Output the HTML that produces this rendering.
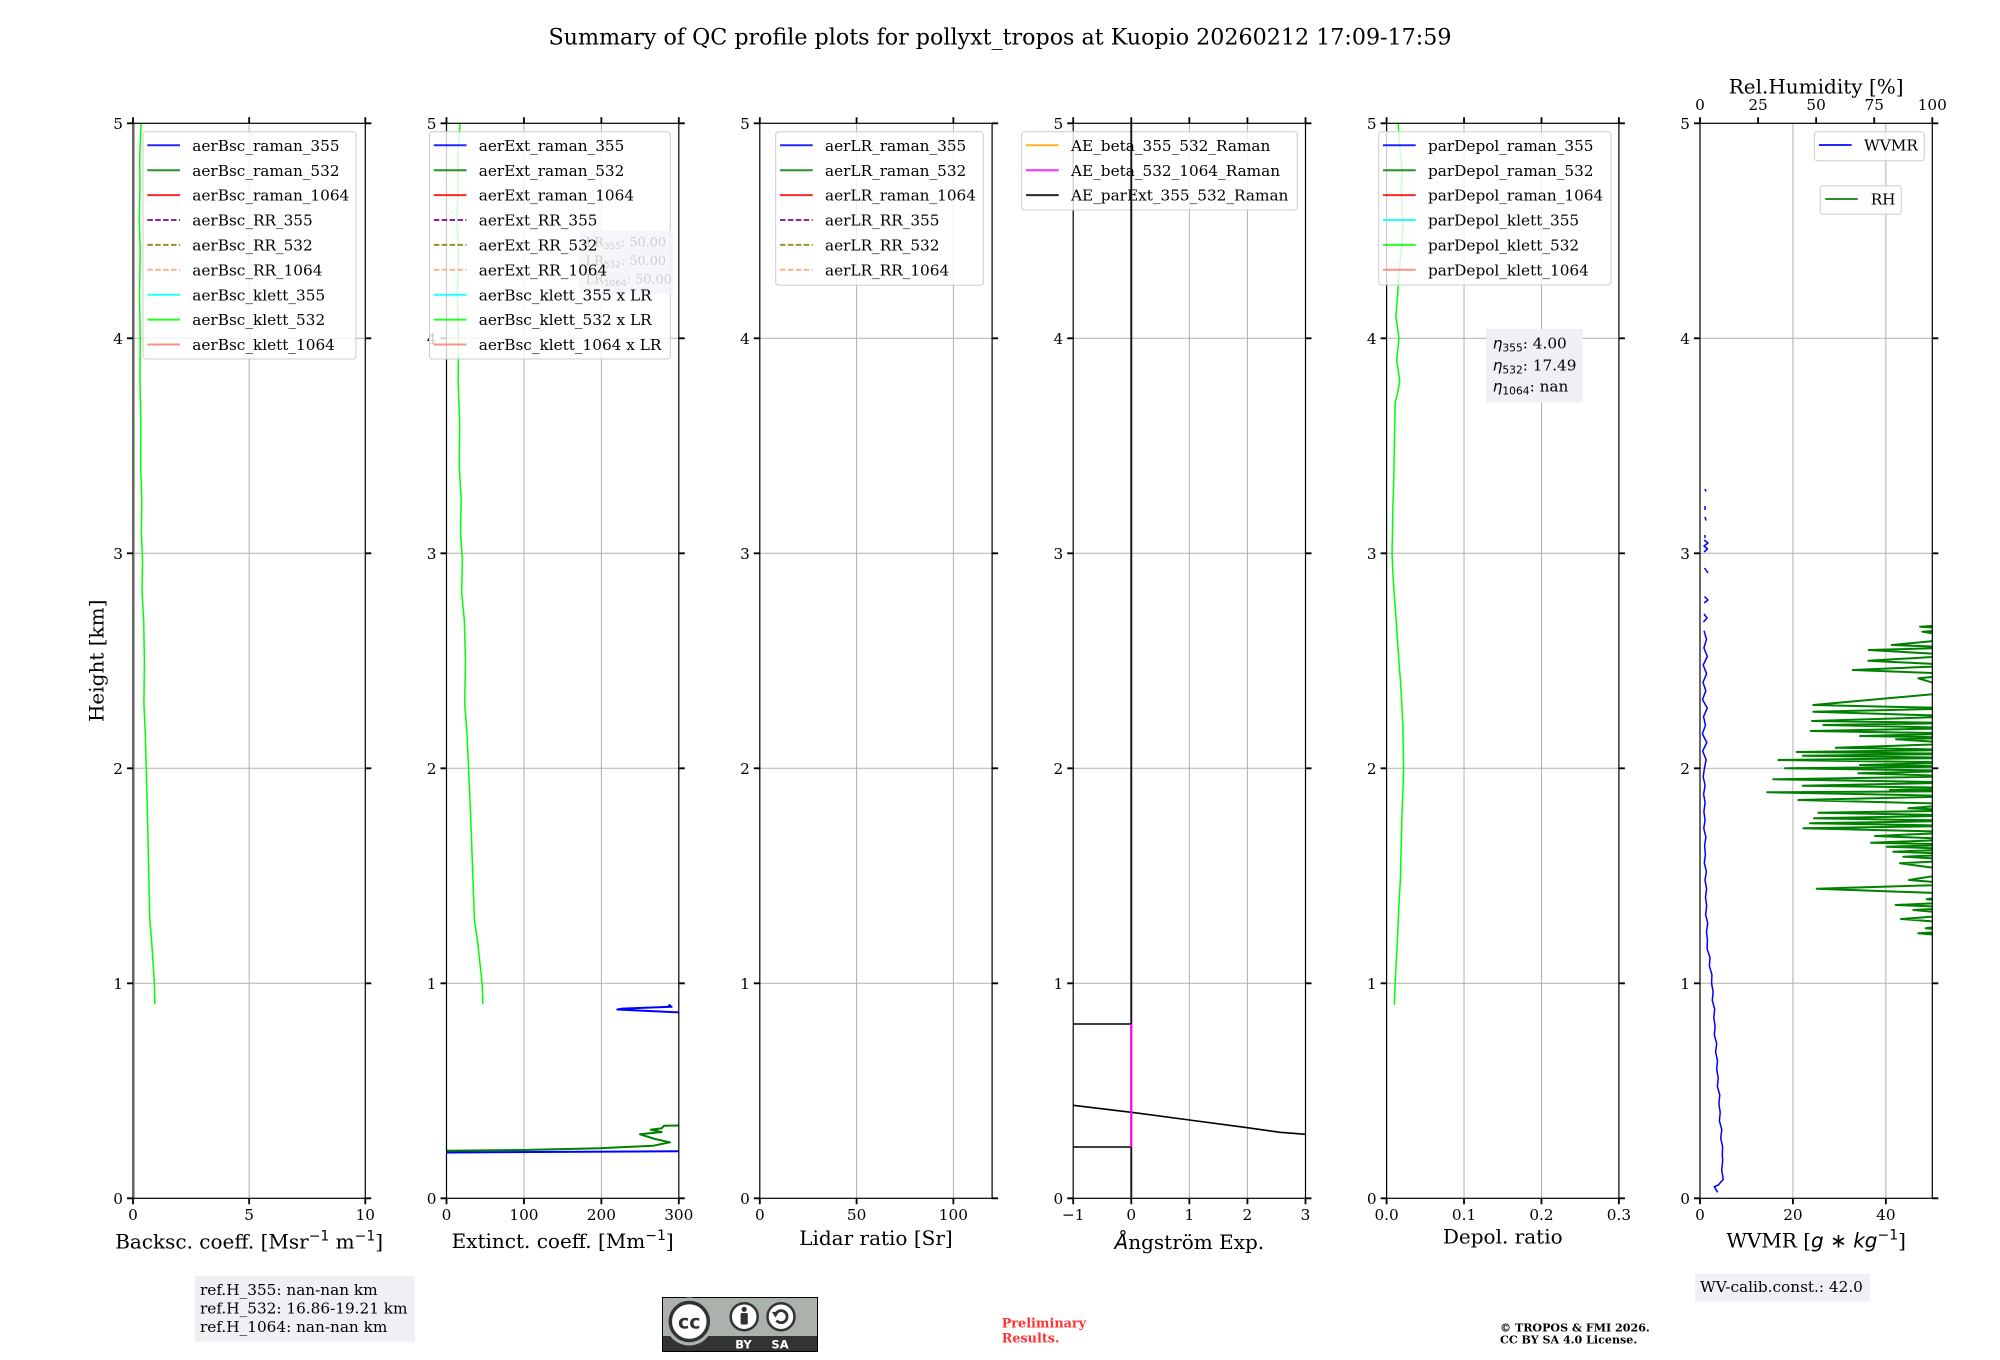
<!DOCTYPE html>
<html><head><meta charset="utf-8"><style>
body{margin:0;background:#fff}
svg{display:block}
text{font-family:"DejaVu Serif","Liberation Serif",serif;fill:#000}
.tk{font-size:15.28px}
.lg{font-size:15.28px}
.lb{font-size:20px}
.ms{font-family:"DejaVu Sans","Liberation Sans",sans-serif}
</style></head><body>
<svg width="2000" height="1360" viewBox="0 0 2000 1360" xmlns="http://www.w3.org/2000/svg">
<defs><clipPath id="c"><rect x="0" y="123.3" width="232.3" height="1075"/></clipPath></defs>
<rect width="2000" height="1360" fill="#fff"/>

<text x="1000" y="44.3" text-anchor="middle" font-size="22.2">Summary of QC profile plots for pollyxt_tropos at Kuopio 20260212 17:09-17:59</text>
<text class="lb" transform="translate(103.3,660.8) rotate(-90)" text-anchor="middle">Height [km]</text>

<!-- ============ AXIS 1 ============ -->
<g transform="translate(133,0)">
<g stroke="#b0b0b0" stroke-width="1" fill="none">
<path d="M0,983.3H232.3M0,768.3H232.3M0,553.3H232.3M0,338.3H232.3M116.15,123.3V1198.3M1.5,123.3V1198.3"/>
</g>
<g clip-path="url(#c)" fill="none" stroke-linejoin="round">
<path stroke="#00ff00" stroke-width="1.5" d="M21.84,1004.4 L21.37,983.3 L19.98,961.8 L18.58,940.3 L17.19,925.3 L16.73,918.8 L15.8,875.8 L14.87,832.8 L13.94,794.1 L13.24,768.3 L12.31,733.9 L10.92,703.8 L11.38,660.8 L10.69,619.9 L9.06,592 L9.52,559.8 L8.36,531.8 L8.83,499.6 L7.67,467.3 L7.9,424.3 L6.97,381.3 L7.2,338.3 L6.5,295.3 L7.2,252.3 L6.27,220.1 L6.97,187.8 L6.74,155.6 L8.13,123.3"/>
</g>
<rect x="0" y="123.3" width="232.3" height="1075" fill="none" stroke="#000" stroke-width="1.2"/>
<path stroke="#000" stroke-width="1.8" fill="none" d="M-6,1198.3H0M-6,983.3H0M-6,768.3H0M-6,553.3H0M-6,338.3H0M-6,123.3H0M232.3,1198.3h6M232.3,983.3h6M232.3,768.3h6M232.3,553.3h6M232.3,338.3h6M232.3,123.3h6M0,1198.3v6M116.15,1198.3v6M232.3,1198.3v6M0,123.3v-6M116.15,123.3v-6M232.3,123.3v-6"/>
<g text-anchor="end"><text class="tk" x="-10" y="1203.8">0</text><text class="tk" x="-10" y="988.8">1</text><text class="tk" x="-10" y="773.8">2</text><text class="tk" x="-10" y="558.8">3</text><text class="tk" x="-10" y="343.8">4</text><text class="tk" x="-10" y="128.8">5</text></g>
<g text-anchor="middle"><text class="tk" x="0" y="1220">0</text><text class="tk" x="116.15" y="1220">5</text><text class="tk" x="232.3" y="1220">10</text></g>
<text class="lb" x="116.15" y="1248.3" text-anchor="middle">Backsc. coeff. [Msr<tspan class="ms" font-size="14" dy="-8">−1</tspan><tspan dy="8"> m</tspan><tspan class="ms" font-size="14" dy="-8">−1</tspan><tspan dy="8">]</tspan></text>
</g>
<!-- legend 1 -->
<rect x="143" y="131.7" width="213" height="227.3" rx="3" fill="#fff" fill-opacity="0.8" stroke="#cccccc" stroke-width="1"/>
<g stroke-width="2" stroke-opacity="0.85" fill="none">
<path stroke="#0000ff" d="M147.3,145.3H180"/>
<path stroke="#008000" d="M147.3,170.2H180"/>
<path stroke="#ff0000" d="M147.3,195.1H180"/>
<path stroke="#800080" stroke-dasharray="5.5,2.4" d="M147.3,220H180"/>
<path stroke="#808000" stroke-dasharray="5.5,2.4" d="M147.3,244.9H180"/>
<path stroke="#ffa07a" stroke-dasharray="5.5,2.4" d="M147.3,269.8H180"/>
<path stroke="#00ffff" d="M147.3,294.7H180"/>
<path stroke="#00ff00" d="M147.3,319.6H180"/>
<path stroke="#fa8072" d="M147.3,344.5H180"/>
</g>
<g><text class="lg" x="192.3" y="150.9">aerBsc_raman_355</text><text class="lg" x="192.3" y="175.8">aerBsc_raman_532</text><text class="lg" x="192.3" y="200.7">aerBsc_raman_1064</text><text class="lg" x="192.3" y="225.6">aerBsc_RR_355</text><text class="lg" x="192.3" y="250.5">aerBsc_RR_532</text><text class="lg" x="192.3" y="275.4">aerBsc_RR_1064</text><text class="lg" x="192.3" y="300.3">aerBsc_klett_355</text><text class="lg" x="192.3" y="325.2">aerBsc_klett_532</text><text class="lg" x="192.3" y="350.1">aerBsc_klett_1064</text></g>

<!-- ============ AXIS 2 ============ -->
<g transform="translate(446.5,0)">
<g stroke="#b0b0b0" stroke-width="1" fill="none">
<path d="M0,983.3H232.3M0,768.3H232.3M0,553.3H232.3M0,338.3H232.3M77.43,123.3V1198.3M154.87,123.3V1198.3"/>
</g>
<g clip-path="url(#c)" fill="none" stroke-linejoin="round">
<path stroke="#00ff00" stroke-width="1.5" d="M36.39,1004.4 L35.62,983.3 L33.29,961.8 L30.97,940.3 L28.65,925.3 L27.87,918.8 L26.33,875.8 L24.78,832.8 L23.23,794.1 L22.07,768.3 L20.52,733.9 L18.2,703.8 L18.97,660.8 L17.81,619.9 L15.1,592 L15.87,559.8 L13.94,531.8 L14.71,499.6 L12.78,467.3 L13.16,424.3 L11.61,381.3 L12,338.3 L10.84,295.3 L12,252.3 L10.45,220.1 L11.61,187.8 L11.23,155.6 L13.55,123.3"/>
<path stroke="#0000ff" stroke-width="2" d="M0,1152.5 L232.3,1151.2"/>
<path stroke="#0000ff" stroke-width="2" d="M245,1013 L170.8,1009.5 L176,1008.6 L225.2,1006.8 L222,1004.6"/>
<path stroke="#008000" stroke-width="2" d="M0,1150.7 L76.8,1150 L153.5,1148.3 L206.8,1145.7 L223.5,1142.3 L208.5,1139 L193.5,1134.3 L215.2,1132 L204.2,1129.7 L215.2,1128.3 L217.5,1125.7 L245,1125.3"/>
</g>
<rect x="0" y="123.3" width="232.3" height="1075" fill="none" stroke="#000" stroke-width="1.2"/>
<path stroke="#000" stroke-width="1.8" fill="none" d="M-6,1198.3H0M-6,983.3H0M-6,768.3H0M-6,553.3H0M-6,338.3H0M-6,123.3H0M232.3,1198.3h6M232.3,983.3h6M232.3,768.3h6M232.3,553.3h6M232.3,338.3h6M232.3,123.3h6M0,1198.3v6M77.43,1198.3v6M154.87,1198.3v6M232.3,1198.3v6M0,123.3v-6M77.43,123.3v-6M154.87,123.3v-6M232.3,123.3v-6"/>
<g text-anchor="end"><text class="tk" x="-10" y="1203.8">0</text><text class="tk" x="-10" y="988.8">1</text><text class="tk" x="-10" y="773.8">2</text><text class="tk" x="-10" y="558.8">3</text><text class="tk" x="-10" y="343.8">4</text><text class="tk" x="-10" y="128.8">5</text></g>
<g text-anchor="middle"><text class="tk" x="0" y="1220">0</text><text class="tk" x="77.43" y="1220">100</text><text class="tk" x="154.87" y="1220">200</text><text class="tk" x="232.3" y="1220">300</text></g>
<text class="lb" x="116.15" y="1248" text-anchor="middle">Extinct. coeff. [Mm<tspan class="ms" font-size="14" dy="-8">−1</tspan><tspan dy="8">]</tspan></text>
</g>
<!-- legend 2 -->
<rect x="429.5" y="131.7" width="240.8" height="227.3" rx="3" fill="#fff" fill-opacity="0.8" stroke="#cccccc" stroke-width="1"/>
<rect x="579.3" y="230.7" width="94.4" height="63.3" fill="#f3f4f7" fill-opacity="0.8"/>
<text x="585.7" y="246.7" font-size="12.8" style="fill:#cfcfcf">LR<tspan class="ms" font-size="9" dy="2.5">355</tspan><tspan dy="-2.5">: 50.00</tspan></text>
<text x="585.7" y="265" font-size="12.8" style="fill:#cfcfcf">LR<tspan class="ms" font-size="9" dy="2.5">532</tspan><tspan dy="-2.5">: 50.00</tspan></text>
<text x="585.7" y="283.3" font-size="12.8" style="fill:#cfcfcf">LR<tspan class="ms" font-size="9" dy="2.5">1064</tspan><tspan dy="-2.5">: 50.00</tspan></text>
<g stroke-width="2" stroke-opacity="0.85" fill="none">
<path stroke="#0000ff" d="M433.8,145.3H466.5"/>
<path stroke="#008000" d="M433.8,170.2H466.5"/>
<path stroke="#ff0000" d="M433.8,195.1H466.5"/>
<path stroke="#800080" stroke-dasharray="5.5,2.4" d="M433.8,220H466.5"/>
<path stroke="#808000" stroke-dasharray="5.5,2.4" d="M433.8,244.9H466.5"/>
<path stroke="#ffa07a" stroke-dasharray="5.5,2.4" d="M433.8,269.8H466.5"/>
<path stroke="#00ffff" d="M433.8,294.7H466.5"/>
<path stroke="#00ff00" d="M433.8,319.6H466.5"/>
<path stroke="#fa8072" d="M433.8,344.5H466.5"/>
</g>
<g><text class="lg" x="478.8" y="150.9">aerExt_raman_355</text><text class="lg" x="478.8" y="175.8">aerExt_raman_532</text><text class="lg" x="478.8" y="200.7">aerExt_raman_1064</text><text class="lg" x="478.8" y="225.6">aerExt_RR_355</text><text class="lg" x="478.8" y="250.5">aerExt_RR_532</text><text class="lg" x="478.8" y="275.4">aerExt_RR_1064</text><text class="lg" x="478.8" y="300.3">aerBsc_klett_355 x LR</text><text class="lg" x="478.8" y="325.2">aerBsc_klett_532 x LR</text><text class="lg" x="478.8" y="350.1">aerBsc_klett_1064 x LR</text></g>

<!-- ============ AXIS 3 ============ -->
<g transform="translate(759.8,0)">
<g stroke="#b0b0b0" stroke-width="1" fill="none">
<path d="M0,983.3H232.3M0,768.3H232.3M0,553.3H232.3M0,338.3H232.3M96.79,123.3V1198.3M193.58,123.3V1198.3"/>
</g>
<rect x="0" y="123.3" width="232.3" height="1075" fill="none" stroke="#000" stroke-width="1.2"/>
<path stroke="#000" stroke-width="1.8" fill="none" d="M-6,1198.3H0M-6,983.3H0M-6,768.3H0M-6,553.3H0M-6,338.3H0M-6,123.3H0M232.3,1198.3h6M232.3,983.3h6M232.3,768.3h6M232.3,553.3h6M232.3,338.3h6M232.3,123.3h6M0,1198.3v6M96.79,1198.3v6M193.58,1198.3v6M0,123.3v-6M96.79,123.3v-6M193.58,123.3v-6"/>
<g text-anchor="end"><text class="tk" x="-10" y="1203.8">0</text><text class="tk" x="-10" y="988.8">1</text><text class="tk" x="-10" y="773.8">2</text><text class="tk" x="-10" y="558.8">3</text><text class="tk" x="-10" y="343.8">4</text><text class="tk" x="-10" y="128.8">5</text></g>
<g text-anchor="middle"><text class="tk" x="0" y="1220">0</text><text class="tk" x="96.79" y="1220">50</text><text class="tk" x="193.58" y="1220">100</text></g>
<text class="lb" x="116.15" y="1245" text-anchor="middle">Lidar ratio [Sr]</text>
</g>
<rect x="775.7" y="131.7" width="207.6" height="153.6" rx="3" fill="#fff" fill-opacity="0.8" stroke="#cccccc" stroke-width="1"/>
<g stroke-width="2" stroke-opacity="0.85" fill="none">
<path stroke="#0000ff" d="M780,145.3H812.7"/>
<path stroke="#008000" d="M780,170.2H812.7"/>
<path stroke="#ff0000" d="M780,195.1H812.7"/>
<path stroke="#800080" stroke-dasharray="5.5,2.4" d="M780,220H812.7"/>
<path stroke="#808000" stroke-dasharray="5.5,2.4" d="M780,244.9H812.7"/>
<path stroke="#ffa07a" stroke-dasharray="5.5,2.4" d="M780,269.8H812.7"/>
</g>
<g><text class="lg" x="825" y="150.9">aerLR_raman_355</text><text class="lg" x="825" y="175.8">aerLR_raman_532</text><text class="lg" x="825" y="200.7">aerLR_raman_1064</text><text class="lg" x="825" y="225.6">aerLR_RR_355</text><text class="lg" x="825" y="250.5">aerLR_RR_532</text><text class="lg" x="825" y="275.4">aerLR_RR_1064</text></g>

<!-- ============ AXIS 4 ============ -->
<g transform="translate(1073.2,0)">
<g stroke="#b0b0b0" stroke-width="1" fill="none">
<path d="M0,983.3H232.3M0,768.3H232.3M0,553.3H232.3M0,338.3H232.3M58.075,123.3V1198.3M116.15,123.3V1198.3M174.225,123.3V1198.3"/>
</g>
<g clip-path="url(#c)" fill="none" stroke-linejoin="round">
<path stroke="#000" stroke-width="1.6" d="M0,1024 H58.075 M0,1147 H58.075"/>
<path stroke="#000" stroke-width="1.6" d="M0,1105.3 L58.1,1112.3 L116.2,1120 L174.2,1127.7 L206.8,1132.3 L232.3,1134.3"/>
</g>
<rect x="0" y="123.3" width="232.3" height="1075" fill="none" stroke="#000" stroke-width="1.2"/>
<path stroke="#000" stroke-width="1.8" fill="none" d="M-6,1198.3H0M-6,983.3H0M-6,768.3H0M-6,553.3H0M-6,338.3H0M-6,123.3H0M232.3,1198.3h6M232.3,983.3h6M232.3,768.3h6M232.3,553.3h6M232.3,338.3h6M232.3,123.3h6M0,1198.3v6M58.075,1198.3v6M116.15,1198.3v6M174.225,1198.3v6M232.3,1198.3v6M0,123.3v-6M58.075,123.3v-6M116.15,123.3v-6M174.225,123.3v-6M232.3,123.3v-6"/>
<g text-anchor="end"><text class="tk" x="-10" y="1203.8">0</text><text class="tk" x="-10" y="988.8">1</text><text class="tk" x="-10" y="773.8">2</text><text class="tk" x="-10" y="558.8">3</text><text class="tk" x="-10" y="343.8">4</text><text class="tk" x="-10" y="128.8">5</text></g>
<g text-anchor="middle"><text class="tk" x="0" y="1220">−1</text><text class="tk" x="58.075" y="1220">0</text><text class="tk" x="116.15" y="1220">1</text><text class="tk" x="174.225" y="1220">2</text><text class="tk" x="232.3" y="1220">3</text></g>
<text class="lb" x="116.15" y="1249" text-anchor="middle"><tspan class="ms" font-style="italic">Å</tspan>ngström Exp.</text>
</g>
<rect x="1021.7" y="131.7" width="275.6" height="78.3" rx="3" fill="#fff" fill-opacity="0.8" stroke="#cccccc" stroke-width="1"/>
<g stroke-width="2" stroke-opacity="0.85" fill="none">
<path stroke="#ffa500" d="M1026,145.3H1058.7"/>
<path stroke="#ff00ff" d="M1026,170.2H1058.7"/>
<path stroke="#000000" d="M1026,195.1H1058.7"/>
</g>
<g><text class="lg" x="1071" y="150.9">AE_beta_355_532_Raman</text><text class="lg" x="1071" y="175.8">AE_beta_532_1064_Raman</text><text class="lg" x="1071" y="200.7">AE_parExt_355_532_Raman</text></g>
<path stroke="#1e0a1c" stroke-width="1.9" fill="none" d="M1131.275,123.3V1198.3"/>
<path stroke="#ff00ff" stroke-width="2" fill="none" d="M1131.275,1147V1024"/>

<!-- ============ AXIS 5 ============ -->
<g transform="translate(1386.6,0)">
<g stroke="#b0b0b0" stroke-width="1" fill="none">
<path d="M0,983.3H232.3M0,768.3H232.3M0,553.3H232.3M0,338.3H232.3M77.43,123.3V1198.3M154.87,123.3V1198.3"/>
</g>
<g clip-path="url(#c)" fill="none" stroke-linejoin="round">
<path stroke="#00ff00" stroke-width="1.5" d="M7.74,1004.8 L8.1,994 L8.52,983.3 L9.6,962 L10.84,940.3 L12.2,908 L13.94,875.8 L14.6,843 L15.49,811.3 L16.4,790 L17.04,768.3 L16.6,747 L16.26,725.3 L15.2,704 L13.94,682.3 L12.3,661 L10.84,639.3 L9.4,618 L7.74,596.3 L6.4,575 L5.42,553.3 L5.9,532 L6.19,510.3 L7.2,478 L7.74,445.8 L8.2,424 L8.52,402.8 L11.2,392 L13.16,381.3 L10.07,359.8 L12.39,338.3 L9.29,316.8 L11,295 L12.39,273.8 L14.5,252 L16.26,230.8 L15.2,209 L14.71,187.8 L15.6,170 L13.94,155.6 L12.6,140 L11.61,123.3"/>
</g>
<rect x="0" y="123.3" width="232.3" height="1075" fill="none" stroke="#000" stroke-width="1.2"/>
<path stroke="#000" stroke-width="1.8" fill="none" d="M-6,1198.3H0M-6,983.3H0M-6,768.3H0M-6,553.3H0M-6,338.3H0M-6,123.3H0M232.3,1198.3h6M232.3,983.3h6M232.3,768.3h6M232.3,553.3h6M232.3,338.3h6M232.3,123.3h6M0,1198.3v6M77.43,1198.3v6M154.87,1198.3v6M232.3,1198.3v6M0,123.3v-6M77.43,123.3v-6M154.87,123.3v-6M232.3,123.3v-6"/>
<g text-anchor="end"><text class="tk" x="-10" y="1203.8">0</text><text class="tk" x="-10" y="988.8">1</text><text class="tk" x="-10" y="773.8">2</text><text class="tk" x="-10" y="558.8">3</text><text class="tk" x="-10" y="343.8">4</text><text class="tk" x="-10" y="128.8">5</text></g>
<g text-anchor="middle"><text class="tk" x="0" y="1220">0.0</text><text class="tk" x="77.43" y="1220">0.1</text><text class="tk" x="154.87" y="1220">0.2</text><text class="tk" x="232.3" y="1220">0.3</text></g>
<text class="lb" x="116.15" y="1243.5" text-anchor="middle">Depol. ratio</text>
</g>
<rect x="1378.7" y="131.7" width="232.3" height="153.3" rx="3" fill="#fff" fill-opacity="0.8" stroke="#cccccc" stroke-width="1"/>
<g stroke-width="2" stroke-opacity="0.85" fill="none">
<path stroke="#0000ff" d="M1383,145.3H1415.7"/>
<path stroke="#008000" d="M1383,170.2H1415.7"/>
<path stroke="#ff0000" d="M1383,195.1H1415.7"/>
<path stroke="#00ffff" d="M1383,220H1415.7"/>
<path stroke="#00ff00" d="M1383,244.9H1415.7"/>
<path stroke="#fa8072" d="M1383,269.8H1415.7"/>
</g>
<g><text class="lg" x="1428" y="150.9">parDepol_raman_355</text><text class="lg" x="1428" y="175.8">parDepol_raman_532</text><text class="lg" x="1428" y="200.7">parDepol_raman_1064</text><text class="lg" x="1428" y="225.6">parDepol_klett_355</text><text class="lg" x="1428" y="250.5">parDepol_klett_532</text><text class="lg" x="1428" y="275.4">parDepol_klett_1064</text></g>
<rect x="1486" y="329" width="96.7" height="73.3" fill="#eef0f4"/>
<text class="lg" x="1492.7" y="348.3"><tspan class="ms" font-style="italic">η</tspan><tspan class="ms" font-size="10.7" dy="3">355</tspan><tspan dy="-3">: 4.00</tspan></text>
<text class="lg" x="1492.7" y="370.5"><tspan class="ms" font-style="italic">η</tspan><tspan class="ms" font-size="10.7" dy="3">532</tspan><tspan dy="-3">: 17.49</tspan></text>
<text class="lg" x="1492.7" y="391.5"><tspan class="ms" font-style="italic">η</tspan><tspan class="ms" font-size="10.7" dy="3">1064</tspan><tspan dy="-3">: nan</tspan></text>

<!-- ============ AXIS 6 ============ -->
<g transform="translate(1700,0)">
<g stroke="#b0b0b0" stroke-width="1" fill="none">
<path d="M0,983.3H232.3M0,768.3H232.3M0,553.3H232.3M0,338.3H232.3M92.92,123.3V1198.3M185.84,123.3V1198.3"/>
</g>
<g clip-path="url(#c)" fill="none" stroke-linejoin="round">
<path stroke="#008000" stroke-width="2" d="M262,937 L218.3,933.3 L262,930.8 L225.7,928.3 L262,923.65 L201,919 L262,914.5 L213.3,910 L262,907.5 L195.7,905 L262,902.15 L226.7,899.3 L262,894 L116.7,888.7 L262,884.35 L209,880 L262,871.65 L200,863.3 L262,860 L203.3,856.7 L262,854.2 L193.3,851.7 L262,849.2 L186.7,846.7 L262,844.7 L171,842.7 L262,839.35 L175,836 L262,832.15 L103.3,828.3 L262,825.8 L110,823.3 L262,820.8 L114,818.3 L262,815.5 L118.3,812.7 L262,810.5 L208.3,808.3 L262,804.15 L98.3,800 L262,796.15 L67.3,792.3 L262,791.15 L190,790 L262,787.85 L102.7,785.7 L262,782.5 L73.3,779.3 L262,776.3 L158.3,773.3 L262,770.8 L85,768.3 L262,766.65 L160,765 L262,762.5 L78.3,760 L262,757.85 L102.7,755.7 L262,753.85 L96.7,752 L262,749.85 L135.7,747.7 L262,743.5 L196,739.3 L262,737.65 L160,736 L262,733.5 L110.7,731 L262,728 L123.3,725 L262,723 L112,721 L262,716.35 L113.3,711.7 L262,708.35 L113.3,705 L262,691.65 L218.3,678.3 L262,674.15 L152.7,670 L262,665.35 L168.3,660.7 L262,655.35 L168.7,650 L262,647.5 L191.7,645 L262,638.35 L222.3,631.7 L262,629.2 L220,626.7 L262,624"/>
<path stroke="#0000ff" stroke-width="1.5" d="M17.7,1192.3 L14.3,1186.7 L18.3,1185 L23.3,1179.3 L21.7,1170.4 L22.7,1160 L22.3,1155.3 L22.6,1146.7 L20.7,1138.1 L21.8,1129.5 L19.4,1120.9 L20.2,1112.3 L18.9,1103.7 L19.8,1095.1 L17.4,1086.5 L18.2,1077.9 L16.7,1069.3 L17.5,1060.7 L15.6,1052.1 L16.7,1043.5 L14.3,1034.9 L15.1,1026.3 L13.8,1017.7 L14.7,1009.1 L12.3,1000.5 L13.1,991.9 L11.6,983.3 L11.9,974.7 L9.4,966.1 L10,957.5 L7.1,948.9 L7.4,940.3 L6.5,931.7 L7.7,923.1 L5.6,914.5 L6.7,905.9 L5.5,897.3 L6.6,888.7 L5,880.1 L6.4,871.5 L4.3,862.9 L5.4,854.3 L4.6,845.7 L5.9,837.1 L3.8,828.5 L5,819.9 L3.9,811.3 L5.1,802.7 L3.6,794.1 L5.1,785.5 L3.2,776.9 L4.4,768.3 L6.1,759.7 L2.7,751.1 L6.8,742.5 L2.4,733.9 L5.5,725.3 L3.5,716.7 L7.3,708.1 L2.5,699.5 L5.8,690.9 L3,682.3 L6.6,673.7 L3.2,665.1 L7.3,656.5 L3.9,647.9 L6.5,639.3 L4,630.7"/>
<path stroke="#0000ff" stroke-width="1.5" d="M3.5,622 L7,618 L4,614 M4,603 L8,600 L4.5,596.5 M4.5,568 L8,573 M4,552 L7.5,549 L4,546 L8,543 L4,540 M5,538 L5,535 M5,517 L6,520.5 M5,506 L5,510 M5,489 L6,491.5"/>
</g>
<rect x="0" y="123.3" width="232.3" height="1075" fill="none" stroke="#000" stroke-width="1.2"/>
<path stroke="#000" stroke-width="1.8" fill="none" d="M-6,1198.3H0M-6,983.3H0M-6,768.3H0M-6,553.3H0M-6,338.3H0M-6,123.3H0M232.3,1198.3h6M232.3,983.3h6M232.3,768.3h6M232.3,553.3h6M232.3,338.3h6M232.3,123.3h6M0,1198.3v6M92.92,1198.3v6M185.84,1198.3v6M0,123.3v-6M58.075,123.3v-6M116.15,123.3v-6M174.225,123.3v-6M232.3,123.3v-6"/>
<g text-anchor="end"><text class="tk" x="-10" y="1203.8">0</text><text class="tk" x="-10" y="988.8">1</text><text class="tk" x="-10" y="773.8">2</text><text class="tk" x="-10" y="558.8">3</text><text class="tk" x="-10" y="343.8">4</text><text class="tk" x="-10" y="128.8">5</text></g>
<g text-anchor="middle"><text class="tk" x="0" y="1220">0</text><text class="tk" x="92.92" y="1220">20</text><text class="tk" x="185.84" y="1220">40</text></g>
<g text-anchor="middle"><text class="tk" x="0" y="110">0</text><text class="tk" x="58.075" y="110">25</text><text class="tk" x="116.15" y="110">50</text><text class="tk" x="174.225" y="110">75</text><text class="tk" x="232.3" y="110">100</text></g>
<text class="lb" x="116.15" y="93.3" text-anchor="middle">Rel.Humidity [%]</text>
<text class="lb" x="116.15" y="1247.5" text-anchor="middle">WVMR [<tspan class="ms" font-style="italic">g</tspan><tspan class="ms"> ∗ </tspan><tspan class="ms" font-style="italic">kg</tspan><tspan class="ms" font-size="14" dy="-8">−1</tspan><tspan dy="8">]</tspan></text>
</g>
<rect x="1814.3" y="131.7" width="110" height="29" rx="3" fill="#fff" fill-opacity="0.8" stroke="#cccccc" stroke-width="1"/>
<path stroke="#0000ff" stroke-opacity="0.85" stroke-width="2" d="M1819,145H1851.7"/>
<text class="lg" x="1864" y="150.7">WVMR</text>
<rect x="1820.3" y="185.7" width="81" height="28.6" rx="3" fill="#fff" fill-opacity="0.8" stroke="#cccccc" stroke-width="1"/>
<path stroke="#008000" stroke-opacity="0.85" stroke-width="2" d="M1825.3,199H1857.7"/>
<text class="lg" x="1870.7" y="204.7">RH</text>

<!-- ============ BOTTOM TEXTS ============ -->
<rect x="195" y="1276" width="220" height="65.7" fill="#eef0f4"/>
<text class="lg" x="200" y="1295">ref.H_355: nan-nan km</text>
<text class="lg" x="200" y="1313.5">ref.H_532: 16.86-19.21 km</text>
<text class="lg" x="200" y="1332">ref.H_1064: nan-nan km</text>

<rect x="1695" y="1274" width="175" height="27.7" fill="#eef0f4"/>
<text class="lg" x="1700" y="1292">WV-calib.const.: 42.0</text>

<text x="1001.7" y="1327.7" font-size="12.8" font-weight="bold" style="fill:#ff3333">Preliminary</text>
<text x="1001.7" y="1342.7" font-size="12.8" font-weight="bold" style="fill:#ff3333">Results.</text>

<text x="1500" y="1331.7" font-size="11.1" font-weight="bold">© TROPOS &amp; FMI 2026.</text>
<text x="1500" y="1343.7" font-size="11.1" font-weight="bold">CC BY SA 4.0 License.</text>

<!-- CC logo -->
<g>
<rect x="662.5" y="1297.5" width="155" height="54" fill="#aab2ab" stroke="#000" stroke-width="1"/>
<rect x="663" y="1336" width="154" height="15" fill="#333"/>
<circle cx="689.3" cy="1321.5" r="24" fill="#aab2ab"/>
<circle cx="689.3" cy="1321.5" r="19" fill="#fff" stroke="#333" stroke-width="3.5"/>
<text x="689.3" y="1328.5" font-size="19" font-weight="bold" text-anchor="middle" style="fill:#333;font-family:'DejaVu Sans','Liberation Sans',sans-serif">cc</text>
<circle cx="744.2" cy="1316.7" r="13.5" fill="#fff" stroke="#333" stroke-width="2.5"/>
<circle cx="744.2" cy="1309.3" r="2.6" fill="#333"/>
<rect x="740.6" y="1313" width="7.2" height="11.5" rx="1.5" fill="#333"/>
<circle cx="781" cy="1316.7" r="13.5" fill="#fff" stroke="#333" stroke-width="2.5"/>
<path d="M775.5,1314.5 A6,6 0 1 1 776.5,1320.5" fill="none" stroke="#333" stroke-width="2.8"/>
<path d="M772,1312 L779,1312 L775.5,1317.5 Z" fill="#333"/>
<text x="743.5" y="1348.3" font-size="11.5" font-weight="bold" text-anchor="middle" style="fill:#fff;font-family:'DejaVu Sans','Liberation Sans',sans-serif">BY</text>
<text x="780" y="1348.3" font-size="11.5" font-weight="bold" text-anchor="middle" style="fill:#fff;font-family:'DejaVu Sans','Liberation Sans',sans-serif">SA</text>
</g>
</svg>
</body></html>
